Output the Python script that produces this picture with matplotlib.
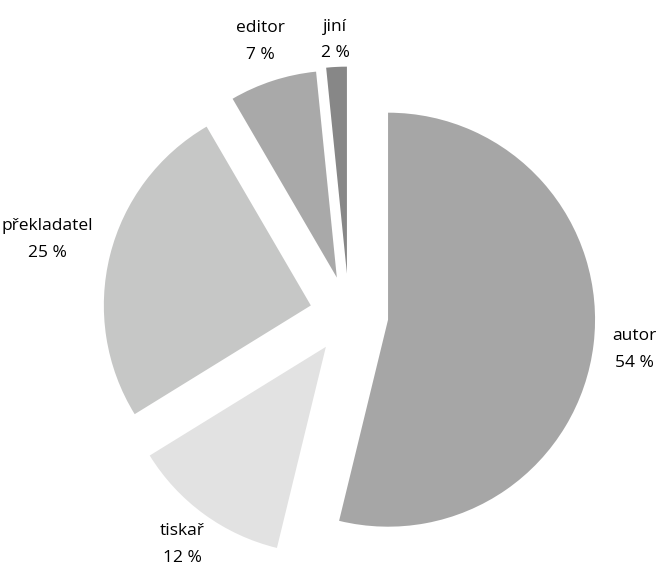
import matplotlib
matplotlib.use("Agg")
import matplotlib.pyplot as plt
import numpy as np

categories = ["autor", "tiskař", "překladatel", "editor", "jiní"]
values = [53.8, 12.4, 25.4, 6.8, 1.6]
pct_labels = ["54 %", "12 %", "25 %", "7 %", "2 %"]

colors = ["#a6a6a6", "#e2e2e2", "#c6c7c6", "#a9a9a9", "#878787"]
explode = [0.19, 0.19, 0.19, 0.19, 0.2]
label_dist = [1.20, 1.18, 1.31, 1.20, 1.13]

plt.rcParams['font.family'] = ['Open Sans', 'DejaVu Sans']

W, H = 662, 571
fig = plt.figure(figsize=(W / 100, H / 100), dpi=100)
ax = fig.add_axes([0, 0, 1, 1])
cx, cy, R = 349, 315, 207

wedges, _ = ax.pie(values, colors=colors, explode=explode, startangle=90,
                   counterclock=False, radius=1.0,
                   wedgeprops=dict(linewidth=0))

for w, cat, pl, ex, ld in zip(wedges, categories, pct_labels, explode, label_dist):
    mid = np.deg2rad((w.theta1 + w.theta2) / 2)
    dx, dy = np.cos(mid), np.sin(mid)
    x = (ex + ld) * dx
    y = (ex + ld) * dy
    ax.text(x, y, f"{cat}\n{pl}", ha="center", va="center", fontsize=12.5,
            color="#000000", linespacing=1.9)

ax.set_xlim(-cx / R, (W - cx) / R)
ax.set_ylim(-(H - cy) / R, cy / R)
ax.set_aspect("auto")
ax.axis("off")

fig.savefig("out.png", dpi=100)
